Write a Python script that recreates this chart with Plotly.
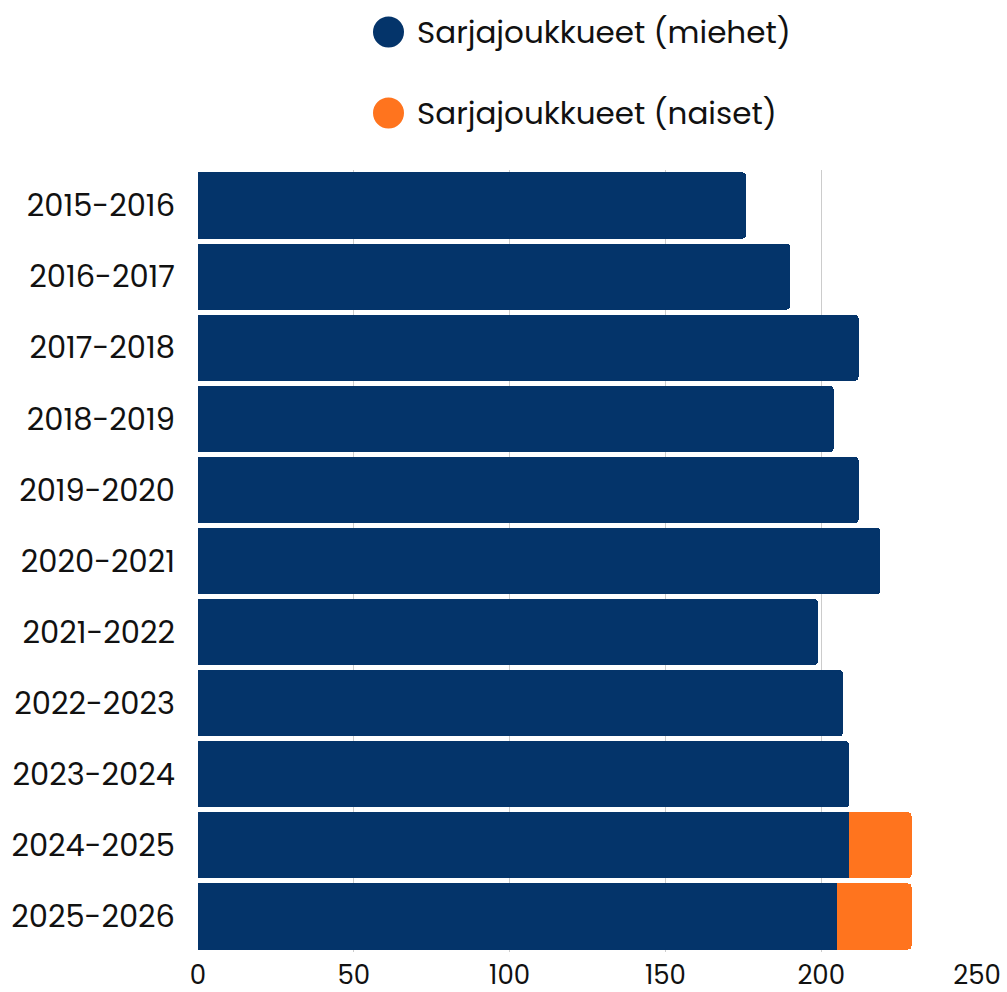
import plotly.graph_objects as go

seasons = ["2015-2016", "2016-2017", "2017-2018", "2018-2019", "2019-2020",
           "2020-2021", "2021-2022", "2022-2023", "2023-2024", "2024-2025", "2025-2026"]
men = [176, 190, 212, 204, 212, 219, 199, 207, 209, 209, 205]
women = [0, 0, 0, 0, 0, 0, 0, 0, 0, 20, 24]
series_names = ["Sarjajoukkueet (miehet)", "Sarjajoukkueet (naiset)"]
colors = ["#04346A", "#FF741E"]
x_ticks = [0, 50, 100, 150, 200, 250]

label_font = "Poppins, Inter, 'Noto Sans', sans-serif"

T, B = 170, 40
PH = 992 - T - B

fig = go.Figure()
fig.add_trace(go.Bar(y=seasons, x=men, orientation="h", marker_color=colors[0],
                     marker_line_width=0, name=series_names[0], showlegend=False))
fig.add_trace(go.Bar(y=seasons, x=women, orientation="h", marker_color=colors[1],
                     marker_line_width=0, name=series_names[1], showlegend=False))

# custom legend with big circles
for i, (nm, c) in enumerate(zip(series_names, colors)):
    yc = 32 + i * 81
    fig.add_shape(type="circle", xref="paper", yref="paper",
                  x0=(373 - 198) / 779, x1=(404 - 198) / 779,
                  y0=((992 - B) - (yc + 15.5)) / PH, y1=((992 - B) - (yc - 15.5)) / PH,
                  fillcolor=c, line_width=0)
    fig.add_annotation(xref="paper", yref="paper", x=(415 - 198) / 779,
                       y=((992 - B) - yc) / PH, text=nm, showarrow=False,
                       xanchor="left", yanchor="middle",
                       font=dict(family=label_font, size=31, color="#111111"))

fig.update_layout(
    barmode="stack",
    bargap=0.07,
    barcornerradius=4,
    width=1007, height=992,
    margin=dict(l=198, r=30, t=T, b=B),
    plot_bgcolor="white", paper_bgcolor="white",
    showlegend=False,
)
fig.update_xaxes(range=[0, 250], tickvals=x_ticks, showgrid=True, gridcolor="#CCCCCC",
                 gridwidth=1, zeroline=False, showline=False, automargin=False,
                 tickfont=dict(family=label_font, size=26, color="#111111"),
                 ticklabelstandoff=5)
fig.update_yaxes(autorange="reversed", showgrid=False, showline=False, automargin=False,
                 tickfont=dict(family=label_font, size=30.5, color="#111111"),
                 ticklabelstandoff=22)

fig.write_html("out.html", config={"displayModeBar": False},
               post_script="document.body.style.margin='0px';")
